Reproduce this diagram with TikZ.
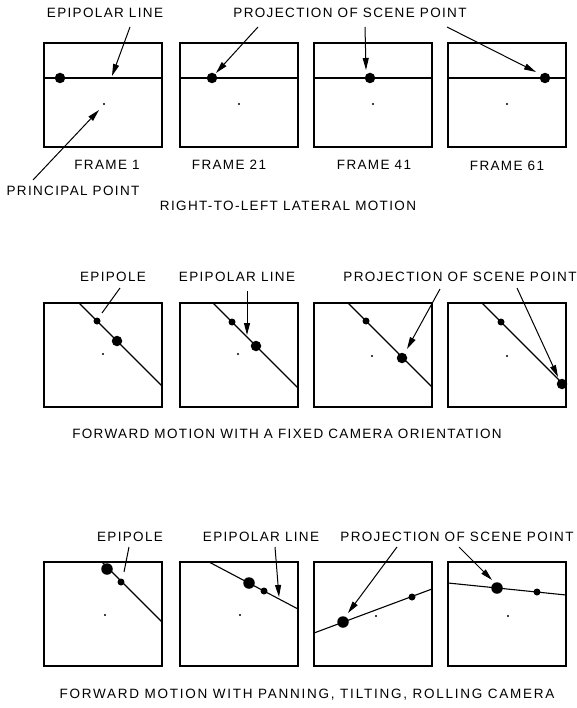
\documentclass[tikz,border=0pt]{standalone}
\usepackage{fontspec}
\setmainfont{Liberation Sans}[LetterSpace=10]
\usetikzlibrary{arrows.meta}
\tikzset{
  frm/.style={draw, line width=1.5pt, inner sep=0pt},
  eline/.style={line width=1.1pt},
  bigdot/.style={circle, fill=black, inner sep=0pt, minimum size=10.5pt},
  bigdotx/.style={circle, fill=black, inner sep=0pt, minimum size=11.5pt},
  smalldot/.style={circle, fill=black, inner sep=0pt, minimum size=7pt},
  ppdot/.style={circle, fill=black, inner sep=0pt, minimum size=2.4pt},
  lbl/.style={inner sep=0pt, font=\fontsize{13.5}{16}\selectfont},
  widelbl/.style={inner sep=0pt, font=\fontsize{13.5}{16}\selectfont\addfontfeature{LetterSpace=13}},
  arr/.style={line width=1pt, -{Triangle[length=12pt,width=6pt]}},
  tick/.style={line width=1pt}
}
\begin{document}
\begin{tikzpicture}[x=1pt,y=-1pt]
\useasboundingbox (0,0) rectangle (576,708);
% ---------- Row 1 ----------
\foreach \xa/\xb in {44/162, 180/298, 314/432, 448/566}{
  \draw[frm] (\xa,43) rectangle (\xb,147);
  \draw[eline] (\xa,78) -- (\xb,78);
}
\node[bigdot] (d1a) at (60,78) {};
\node[bigdot] (d1b) at (212,78) {};
\node[bigdot] (d1c) at (370,78) {};
\node[bigdot] (d1d) at (545,78) {};
\node[ppdot] (p1a) at (104,104) {};
\node[ppdot] (p1b) at (239,104) {};
\node[ppdot] (p1c) at (373,104) {};
\node[ppdot] (p1d) at (507,104) {};
\node[lbl] (l1el) at (105,13) {EPIPOLAR LINE};
\node[lbl] (l1pr) at (350,13) {PROJECTION OF SCENE POINT};
\node[lbl] (l1pp) at (73,191) {PRINCIPAL POINT};
\node[lbl] (f1) at (107,165) {FRAME 1};
\node[lbl] (f21) at (229,165) {FRAME 21};
\node[lbl] (f41) at (374,165) {FRAME 41};
\node[lbl] (f61) at (507,166) {FRAME 61};
\node[lbl] (cap1) at (288,206) {RIGHT-TO-LEFT LATERAL MOTION};
\coordinate (s1el) at (130,27); \coordinate (e1el) at (112,76);
\coordinate (s1pa) at (258,27); \coordinate (e1pa) at (216,73);
\coordinate (s1pb) at (365,27); \coordinate (e1pb) at (366,70);
\coordinate (s1pc) at (447,27); \coordinate (e1pc) at (536,72);
\coordinate (s1pp) at (33,180); \coordinate (e1pp) at (99,110);
\draw[arr] (s1el) -- (e1el);
\draw[arr] (s1pa) -- (e1pa);
\draw[arr] (s1pb) -- (e1pb);
\draw[arr] (s1pc) -- (e1pc);
\draw[arr] (s1pp) -- (e1pp);
% ---------- Row 2 ----------
\foreach \xa/\xb in {44/162, 180/298, 314/432, 448/566}{
  \draw[frm] (\xa,303) rectangle (\xb,407);
}
\draw[eline] (79,303) -- (162,386);
\draw[eline] (213,303) -- (298,388);
\draw[eline] (348,303) -- (432,387);
\draw[eline] (482,303) -- (565,386);
\node[smalldot] (e2a) at (97,321) {};
\node[smalldot] (e2b) at (232,322) {};
\node[smalldot] (e2c) at (366,321) {};
\node[smalldot] (e2d) at (501,322) {};
\node[bigdot] (d2a) at (117,341) {};
\node[bigdot] (d2b) at (256,346) {};
\node[bigdot] (d2c) at (402,358) {};
\node[bigdot] (d2d) at (562,384) {};
\node[ppdot] (p2a) at (103,354) {};
\node[ppdot] (p2b) at (238,354) {};
\node[ppdot] (p2c) at (372,356) {};
\node[ppdot] (p2d) at (507,356) {};
\node[lbl] (l2ep) at (113,277) {EPIPOLE};
\node[lbl] (l2el) at (237,277) {EPIPOLAR LINE};
\node[lbl] (l2pr) at (460,277) {PROJECTION OF SCENE POINT};
\node[lbl] (cap2) at (287,434) {FORWARD MOTION WITH A FIXED CAMERA ORIENTATION};
\coordinate (s2ep) at (120,288); \coordinate (e2ep) at (102,313);
\coordinate (s2el) at (247,291); \coordinate (e2el) at (247,335);
\coordinate (s2pa) at (440,289); \coordinate (e2pa) at (407,349);
\coordinate (s2pb) at (517,288); \coordinate (e2pb) at (558,377);
\draw[tick] (s2ep) -- (e2ep);
\draw[arr] (s2el) -- (e2el);
\draw[arr] (s2pa) -- (e2pa);
\draw[arr] (s2pb) -- (e2pb);
% ---------- Row 3 ----------
\foreach \xa/\xb in {44/162, 180/298, 314/432, 448/566}{
  \draw[frm] (\xa,562) rectangle (\xb,666);
}
\draw[eline] (102,562) -- (162,622);
\draw[eline] (209,562) -- (298,609);
\draw[eline] (314,633) -- (432,589);
\draw[eline] (448,583) -- (566,595);
\node[bigdotx] (d3a) at (107,569) {};
\node[smalldot] (e3a) at (121,582) {};
\node[bigdotx] (d3b) at (249,583) {};
\node[smalldot] (e3b) at (264,591) {};
\node[bigdotx] (d3c) at (343,622) {};
\node[smalldot] (e3c) at (412,597) {};
\node[bigdotx] (d3d) at (497,588) {};
\node[smalldot] (e3d) at (537,592) {};
\node[ppdot] (p3a) at (105,615) {};
\node[ppdot] (p3b) at (240,615) {};
\node[ppdot] (p3c) at (376,616) {};
\node[ppdot] (p3d) at (508,616) {};
\node[lbl] (l3ep) at (130,537) {EPIPOLE};
\node[lbl] (l3el) at (261,537) {EPIPOLAR LINE};
\node[lbl] (l3pr) at (457,537) {PROJECTION OF SCENE POINT};
\node[widelbl] (cap3) at (307,695) {FORWARD MOTION WITH PANNING, TILTING, ROLLING CAMERA};
\coordinate (s3ep) at (129,547); \coordinate (e3ep) at (124,572);
\coordinate (s3el) at (275,547); \coordinate (e3el) at (279,597);
\coordinate (s3pa) at (397,547); \coordinate (e3pa) at (348,613);
\coordinate (s3pb) at (459,547); \coordinate (e3pb) at (492,580);
\draw[tick] (s3ep) -- (e3ep);
\draw[arr] (s3el) -- (e3el);
\draw[arr] (s3pa) -- (e3pa);
\draw[arr] (s3pb) -- (e3pb);
\end{tikzpicture}
\end{document}
